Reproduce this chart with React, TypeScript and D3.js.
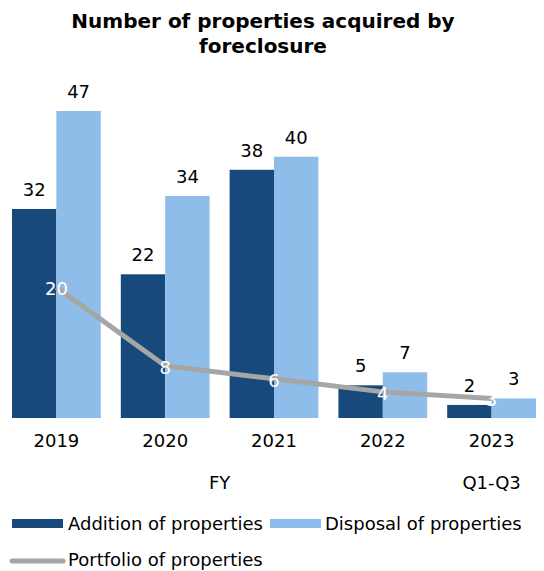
import * as d3 from 'd3';

const years = ['2019', '2020', '2021', '2022', '2023'];
const additions = [32, 22, 38, 5, 2];
const disposals = [47, 34, 40, 7, 3];
const portfolio = [20, 8, 6, 4, 3];

const seriesNames = ['Addition of properties', 'Disposal of properties', 'Portfolio of properties'];
const colors = ['#17497a', '#8dbde8', '#a6a6a6'];

export default function App() {
  const width = 544;
  const height = 571;
  const font = '"DejaVu Sans", Verdana, sans-serif';
  const baseline = 418;
  const fs = 18;

  const x = d3.scaleBand<string>().domain(years).range([2, 546]).paddingInner(0.184).paddingOuter(0.092);
  const inner = d3.scaleBand<string>().domain(['a', 'd']).range([0, x.bandwidth()]);
  const y = d3.scaleLinear().domain([0, 47]).range([baseline, 111]);

  const line = d3
    .line<number>()
    .x((_, i) => x(years[i])! + x.bandwidth() / 2)
    .y((d) => y(d));

  const groups = [additions, disposals];

  return (
    <div style={{ position: 'absolute', left: 0, top: 0 }}>
      <svg width={width} height={height} style={{ fontFamily: font, display: 'block' }}>
        <text x={263} y={28} textAnchor="middle" fontSize={20} fontWeight="bold" fill="#000">
          Number of properties acquired by
        </text>
        <text x={263} y={53} textAnchor="middle" fontSize={20} fontWeight="bold" fill="#000">
          foreclosure
        </text>

        {groups.map((vals, gi) =>
          vals.map((v, i) => {
            const bx = x(years[i])! + inner(gi === 0 ? 'a' : 'd')!;
            return (
              <g key={`${gi}-${i}`}>
                <rect x={bx} y={y(v)} width={inner.bandwidth()} height={baseline - y(v)} fill={colors[gi]} />
                <text x={bx + inner.bandwidth() / 2} y={y(v) - 13} textAnchor="middle" fontSize={fs} fill="#000">
                  {v}
                </text>
              </g>
            );
          })
        )}

        <path d={line(portfolio) ?? ''} fill="none" stroke={colors[2]} strokeWidth={5} strokeLinejoin="round" />
        {portfolio.map((v, i) => (
          <text
            key={i}
            x={x(years[i])! + x.bandwidth() / 2}
            y={y(v) + 8}
            textAnchor="middle"
            fontSize={fs}
            fill="#fff"
          >
            {v}
          </text>
        ))}

        {years.map((yr) => (
          <text key={yr} x={x(yr)! + x.bandwidth() / 2} y={447} textAnchor="middle" fontSize={fs} fill="#000">
            {yr}
          </text>
        ))}
        <text
          x={(x('2019')! + x('2022')! + x.bandwidth()) / 2}
          y={489}
          textAnchor="middle"
          fontSize={fs}
          fill="#000"
        >
          FY
        </text>
        <text x={x('2023')! + x.bandwidth() / 2} y={489} textAnchor="middle" fontSize={fs} fill="#000">
          Q1-Q3
        </text>

        <g fontSize={fs} fill="#000">
          <rect x={12} y={519} width={51} height={9} fill={colors[0]} />
          <text x={68} y={530}>{seriesNames[0]}</text>
          <rect x={270} y={519} width={51} height={9} fill={colors[1]} />
          <text x={325} y={530}>{seriesNames[1]}</text>
          <line x1={12} x2={63} y1={561} y2={561} stroke={colors[2]} strokeWidth={5} strokeLinecap="round" />
          <text x={68} y={566}>{seriesNames[2]}</text>
        </g>
      </svg>
    </div>
  );
}
